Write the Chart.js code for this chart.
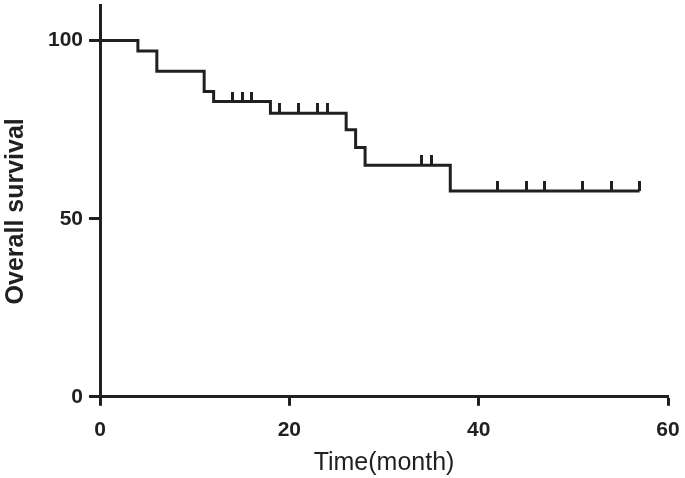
<!DOCTYPE html>
<html>
<head>
<meta charset="utf-8">
<script src="https://cdn.jsdelivr.net/npm/chart.js@4.4.1/dist/chart.umd.min.js"></script>
<style>
  html, body { margin: 0; padding: 0; background: #fff; }
</style>
</head>
<body>
<canvas id="kmChart" width="685" height="478"></canvas>
<script>
// survival steps (time in months, survival %)
var eventTimes = [0, 4, 6, 11, 12, 18, 26, 27, 28, 37, 57];
var survival = [100, 97.1, 91.4, 85.7, 82.9, 79.6, 75.0, 70.0, 65.0, 57.8, 57.8];
// censored observations
var censorTimes = [14, 15, 16, 19, 21, 23, 24, 34, 35, 42, 45, 47, 51, 54, 57];
var censorSurvival = [82.9, 82.9, 82.9, 79.6, 79.6, 79.6, 79.6, 65.0, 65.0, 57.8, 57.8, 57.8, 57.8, 57.8, 57.8];
var xTicks = [0, 20, 40, 60];
var yTicks = [0, 50, 100];

var ink = '#231f20';

// small vertical tick drawn only above the point
var mark = document.createElement('canvas');
mark.width = 3;
mark.height = 20;
var mctx = mark.getContext('2d');
mctx.fillStyle = ink;
mctx.fillRect(0, 0, 3, 10);

var curve = eventTimes.map(function (t, i) { return { x: t, y: survival[i] }; });
var censored = censorTimes.map(function (t, i) { return { x: t, y: censorSurvival[i] }; });

Chart.defaults.font.family = '"Liberation Sans", Arial, Helvetica, sans-serif';
Chart.defaults.color = ink;

var ctx = document.getElementById('kmChart').getContext('2d');
var chart = new Chart(ctx, {
    type: 'line',
    data: {
        datasets: [{
            data: curve,
            stepped: 'before',
            borderColor: ink,
            borderWidth: 3,
            pointRadius: 0,
            fill: false,
            clip: false
        }, {
            type: 'scatter',
            data: censored,
            pointStyle: mark,
            pointRadius: 10,
            showLine: false,
            clip: false
        }]
    },
    options: {
        responsive: false,
        animation: false,
        layout: { autoPadding: false, padding: { top: 5, right: 17, bottom: 0, left: 1 } },
        plugins: { legend: { display: false }, tooltip: { enabled: false } },
        scales: {
            x: {
                type: 'linear',
                min: 0,
                max: 60,
                afterBuildTicks: function (axis) {
                    axis.ticks = xTicks.map(function (v) { return { value: v }; });
                },
                afterFit: function (axis) {
                    axis.paddingLeft = 0;
                    axis.paddingRight = 0;
                    axis.height -= 8;
                },
                border: { display: true, width: 3, color: ink },
                grid: { drawOnChartArea: false, drawTicks: true, tickLength: 9, tickWidth: 3, tickColor: ink },
                ticks: { font: { size: 21, weight: 'bold' }, padding: 12, maxRotation: 0 },
                title: { display: true, text: 'Time(month)', font: { size: 25 }, padding: { top: 1, bottom: 0 } }
            },
            y: {
                min: 0,
                max: 110,
                afterBuildTicks: function (axis) {
                    axis.ticks = yTicks.map(function (v) { return { value: v }; });
                },
                afterFit: function (axis) {
                    axis.paddingTop = 0;
                    axis.paddingBottom = 0;
                },
                border: { display: true, width: 3, color: ink },
                grid: { drawOnChartArea: false, drawTicks: true, tickLength: 11, tickWidth: 3, tickColor: ink },
                ticks: { font: { size: 21, weight: 'bold' }, padding: 6 },
                title: { display: true, text: 'Overall survival   ', font: { size: 25, weight: 'bold' }, padding: { top: 0, bottom: 11 } }
            }
        }
    }
});
</script>
</body>
</html>
